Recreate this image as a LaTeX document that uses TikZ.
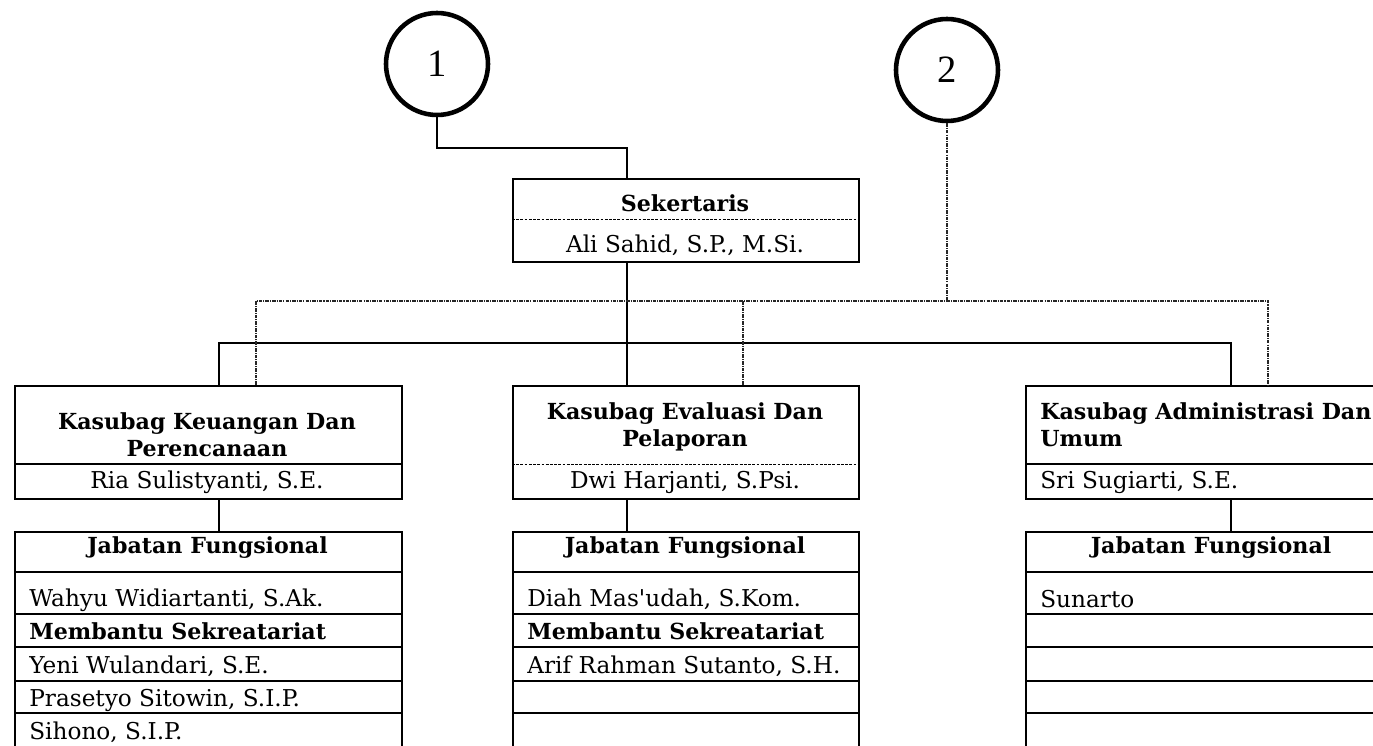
\documentclass[tikz,border=0pt]{standalone}
\usepackage{fontspec}
\setmainfont{DejaVu Serif}
\newfontfamily\numfont{Liberation Serif}
\usepackage{tikz}
\usetikzlibrary{math,calc}
\newcommand{\px}{0.02cm}
\tikzset{%
  frame/.style={draw, rectangle, line width=1.1pt, inner sep=0pt, anchor=north west},
  conn/.style={line width=1.1pt},
  dotconn/.style={line width=0.6pt, dash pattern=on 2pt off 0.6pt on 0.6pt off 0.6pt, color=black!85},
  divider/.style={line width=0.5pt, dash pattern=on 1.6pt off 0.8pt},
  rowline/.style={line width=1.1pt},
  bubble/.style={circle, draw, line width=2.6pt, minimum size=102*\px, inner sep=0pt, font=\numfont\fontsize{22}{24}\selectfont},
  txt/.style={inner sep=0pt, font=\fontsize{13.2}{15}\selectfont},
  btxt/.style={inner sep=0pt, font=\fontsize{12.6}{15.6}\selectfont\bfseries}
}

\begin{document}
\begin{tikzpicture}[x=\px, y=-\px]
    \path[use as bounding box, clip] (0,0) rectangle (1373,746);
    \tikzmath{
      \boxtop=385;
      \tabtop=531;
    }
    % circles
    \node[bubble] (c1) at (437,64) {1};
    \node[bubble] (c2) at (947,70) {2};
    % sekertaris
    \node[frame, minimum width=346*\px, minimum height=83*\px] (sek) at (512,178) {};
    \draw[divider] (sek.west |- 0,219) -- (sek.east |- 0,219);
    \node[btxt, anchor=base] (sekt) at (685,212) {Sekertaris};
    \node[txt, anchor=base] (sekn) at (685,253) {Ali Sahid, S.P., M.Si.};
    % kasubag boxes
    \node[frame, minimum width=387*\px, minimum height=113*\px] (keu) at (14,\boxtop) {};
    \node[frame, minimum width=346*\px, minimum height=113*\px] (eva) at (512,\boxtop) {};
    \node[frame, minimum width=372*\px, minimum height=113*\px] (adm) at (1025,\boxtop) {};
    \draw[rowline] (keu.west |- 0,464) -- (keu.east |- 0,464);
    \draw[divider] (eva.west |- 0,464) -- (eva.east |- 0,464);
    \draw[rowline] (adm.west |- 0,464) -- (adm.east |- 0,464);
    \node[btxt, anchor=base, align=center] (keut) at (207,457) {Kasubag Keuangan Dan\\Perencanaan};
    \node[btxt, anchor=base, align=center] (evat) at (685,447) {Kasubag Evaluasi Dan\\Pelaporan};
    \node[btxt, anchor=base west, align=left] (admt) at (1040,447) {Kasubag Administrasi Dan\\Umum};
    \node[txt, anchor=base] (keun) at (207,489) {Ria Sulistyanti, S.E.};
    \node[txt, anchor=base] (evan) at (685,488) {Dwi Harjanti, S.Psi.};
    \node[txt, anchor=base west] (admn) at (1040,488) {Sri Sugiarti, S.E.};
    % jabatan fungsional tables
    \foreach \nm/\xl/\bw in {jfa/14/387, jfb/512/346, jfc/1025/372} {
      \node[frame, minimum width=\bw*\px, minimum height=260*\px] (\nm) at (\xl,\tabtop) {};
      \foreach \yy in {572,614,647,681,713}
        \draw[rowline] (\xl,\yy) -- ++(\bw,0);
      \node[btxt, anchor=base] (\nm h) at (\xl+\bw/2,553) {Jabatan Fungsional};
    }
    \node[txt, anchor=base west] (a1) at (29,606) {Wahyu Widiartanti, S.Ak.};
    \node[btxt, anchor=base west] (a2) at (29,639) {Membantu Sekreatariat};
    \node[txt, anchor=base west] (a3) at (29,673) {Yeni Wulandari, S.E.};
    \node[txt, anchor=base west] (a4) at (29,706) {Prasetyo Sitowin, S.I.P.};
    \node[txt, anchor=base west] (a5) at (29,739) {Sihono, S.I.P.};
    \node[txt, anchor=base west] (b1) at (527,606) {Diah Mas\textquotesingle udah, S.Kom.};
    \node[btxt, anchor=base west] (b2) at (527,639) {Membantu Sekreatariat};
    \node[txt, anchor=base west] (b3) at (527,673) {Arif Rahman Sutanto, S.H.};
    \node[txt, anchor=base west] (c1r) at (1040,607) {Sunarto};
    % connectors
    \coordinate (t1) at (627,148);
    \coordinate (spA) at (219,343);
    \coordinate (spC) at (1231,343);
    \coordinate (dpA) at (256,301);
    \coordinate (dpB) at (743,301);
    \coordinate (dpC) at (1268,301);
    \draw[conn] (c1.south) |- (t1) -- (t1 |- sek.north);
    \draw[conn] (t1 |- sek.south) -- (t1 |- eva.north);
    \draw[conn] (spA |- keu.north) -- (spA) -- (spC) -- (spC |- adm.north);
    \draw[conn] (spA |- keu.south) -- (spA |- jfa.north);
    \draw[conn] (t1 |- eva.south) -- (t1 |- jfb.north);
    \draw[conn] (spC |- adm.south) -- (spC |- jfc.north);
    \draw[dotconn] (c2.south) -- (c2.south |- dpA);
    \draw[dotconn] (dpA |- keu.north) -- (dpA) -- (dpC) -- (dpC |- adm.north);
    \draw[dotconn] (dpB) -- (dpB |- eva.north);
  \end{tikzpicture}
\end{document}
